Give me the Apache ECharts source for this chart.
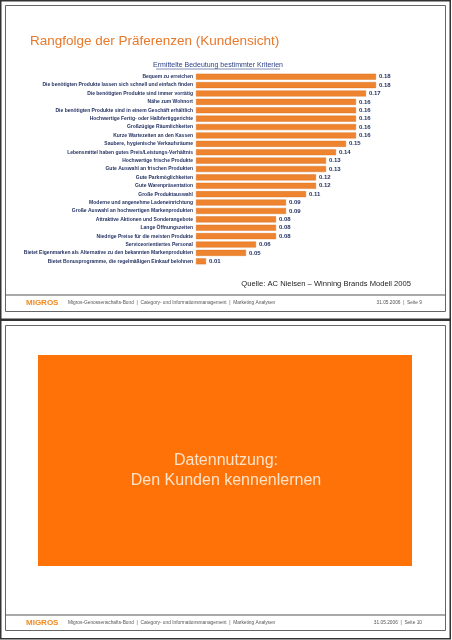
<!DOCTYPE html>
<html>
<head>
<meta charset="utf-8">
<script src="https://cdn.jsdelivr.net/npm/echarts@6/dist/echarts.min.js"></script>
<style>
html,body{margin:0;padding:0;background:#fff;}
#chart{width:452px;height:640px;}
</style>
</head>
<body>
<div id="chart"></div>
<script>
var categories = [
  "Bequem zu erreichen",
  "Die benötigten Produkte lassen sich schnell und einfach finden",
  "Die benötigten Produkte sind immer vorrätig",
  "Nähe zum Wohnort",
  "Die benötigten Produkte sind in einem Geschäft erhältlich",
  "Hochwertige Fertig- oder Halbfertiggerichte",
  "Großzügige Räumlichkeiten",
  "Kurze Wartezeiten an den Kassen",
  "Saubere, hygienische Verkaufsräume",
  "Lebensmittel haben gutes Preis/Leistungs-Verhältnis",
  "Hochwertige frische Produkte",
  "Gute Auswahl an frischen Produkten",
  "Gute Parkmöglichkeiten",
  "Gute Warenpräsentation",
  "Große Produktauswahl",
  "Moderne und angenehme Ladeneinrichtung",
  "Große Auswahl an hochwertigen Markenprodukten",
  "Attraktive Aktionen und Sonderangebote",
  "Lange Öffnungszeiten",
  "Niedrige Preise für die meisten Produkte",
  "Serviceorientiertes Personal",
  "Bietet Eigenmarken als Alternative zu den bekannten Markenprodukten",
  "Bietet Bonusprogramme, die regelmäßigen Einkauf belohnen"
];
var values = [0.18, 0.18, 0.17, 0.16, 0.16, 0.16, 0.16, 0.16, 0.15, 0.14, 0.13, 0.13, 0.12, 0.12, 0.11, 0.09, 0.09, 0.08, 0.08, 0.08, 0.06, 0.05, 0.01];

var mainTitle = "Rangfolge der Präferenzen (Kundensicht)";
var chartTitle = "Ermittelte Bedeutung bestimmter Kriterien";
var sourceText = "Quelle: AC Nielsen – Winning Brands Modell 2005";
var footerText = "Migros-Genossenschafts-Bund  |  Category- und Informationsmanagement  |  Marketing Analysen";
var page1 = "31.05.2006  |  Seite 9";
var page2 = "31.05.2006  |  Seite 10";
var sectionLines = ["Datennutzung:", "Den Kunden kennenlernen"];

var FONT = "Liberation Sans, Arial, sans-serif";
var NAVY = "#1f2d5e";
var ORANGE = "#ee8430";

var chart = echarts.init(document.getElementById('chart'), null, {renderer: 'canvas'});

function footer(y, pageTxt) {
  return [
    {type: 'line', shape: {x1: 5, y1: y, x2: 445, y2: y}, style: {stroke: '#555', lineWidth: 1}},
    {type: 'text', x: 26, y: y + 8, style: {text: 'MIGROS', fill: '#f08a1c', font: 'bold 8px ' + FONT, textVerticalAlign: 'middle'}},
    {type: 'text', x: 68, y: y + 8, style: {text: footerText, fill: '#555', font: '4.8px ' + FONT, textVerticalAlign: 'middle'}},
    {type: 'text', x: 422, y: y + 8, style: {text: pageTxt, fill: '#555', font: '4.8px ' + FONT, textAlign: 'right', textVerticalAlign: 'middle'}}
  ];
}

var graphics = [
  {type: 'rect', shape: {x: 0.75, y: 0.75, width: 449.5, height: 318.5}, style: {fill: '#fff', stroke: '#333', lineWidth: 1.5}, z: -10},
  {type: 'rect', shape: {x: 5.5, y: 5.5, width: 440, height: 306}, style: {fill: 'none', stroke: '#666', lineWidth: 1}, z: -9},
  {type: 'rect', shape: {x: 0.75, y: 320.25, width: 449.5, height: 318.5}, style: {fill: '#fff', stroke: '#333', lineWidth: 1.5}, z: -10},
  {type: 'rect', shape: {x: 5.5, y: 325.5, width: 440, height: 305}, style: {fill: 'none', stroke: '#666', lineWidth: 1}, z: -9},
  {type: 'text', x: 30, y: 41, style: {text: mainTitle, fill: '#e8782a', font: '13.5px ' + FONT, textVerticalAlign: 'middle'}},
  {type: 'text', x: 218, y: 65, style: {text: chartTitle, fill: '#2b3f85', font: '7px ' + FONT, textAlign: 'center', textVerticalAlign: 'middle'}},
  {type: 'line', shape: {x1: 156, y1: 69, x2: 280, y2: 69}, style: {stroke: '#2b3f85', lineWidth: 0.6}},
  {type: 'text', x: 411, y: 283.5, style: {text: sourceText, fill: '#222', font: '7.6px ' + FONT, textAlign: 'right', textVerticalAlign: 'middle'}},
  {type: 'rect', shape: {x: 38, y: 355, width: 374, height: 211}, style: {fill: '#ff7208'}},
  {type: 'text', x: 226, y: 461, style: {text: sectionLines[0], fill: '#fde3c8', font: '16px ' + FONT, textAlign: 'center', textVerticalAlign: 'middle'}},
  {type: 'text', x: 226, y: 481, style: {text: sectionLines[1], fill: '#fde3c8', font: '16px ' + FONT, textAlign: 'center', textVerticalAlign: 'middle'}}
].concat(footer(295, page1)).concat(footer(615, page2));

chart.setOption({
  animation: false,
  backgroundColor: '#fff',
  graphic: graphics,
  grid: {left: 196, top: 72.5, width: 200, height: 193, containLabel: false},
  xAxis: {type: 'value', min: 0, max: 0.2, show: false},
  yAxis: {
    type: 'category', data: categories, inverse: true,
    axisLine: {show: false}, axisTick: {show: false}, splitLine: {show: false},
    axisLabel: {fontSize: 5, color: NAVY, fontFamily: FONT, margin: 3, fontWeight: 'bold'}
  },
  series: [{
    type: 'bar', data: values, barWidth: 6,
    itemStyle: {color: ORANGE, borderColor: '#d86e1c', borderWidth: 0.4},
    label: {show: true, position: 'right', distance: 3, fontSize: 6, color: NAVY, fontFamily: FONT, fontWeight: 'bold',
      formatter: function (p) { return p.value.toFixed(2); }}
  }]
});
</script>
</body>
</html>
